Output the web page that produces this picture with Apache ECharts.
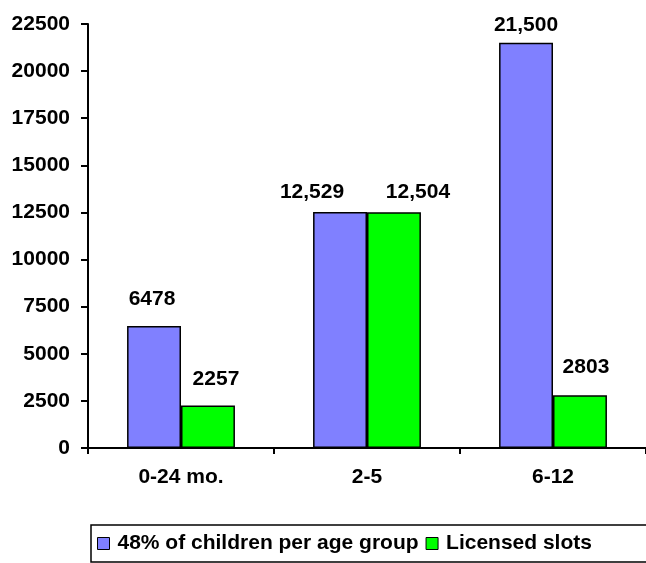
<!DOCTYPE html>
<html>
<head>
<meta charset="utf-8">
<script src="https://cdn.jsdelivr.net/npm/echarts@6/dist/echarts.min.js"></script>
<style>
html,body{margin:0;padding:0;background:#fff;}
#chart{width:646px;height:563px;}
</style>
</head>
<body>
<div id="chart"></div>
<script>
var categories = ['0-24 mo.', '2-5', '6-12'];
var seriesNames = ['48% of children per age group', 'Licensed slots'];
var childrenValues = [6478, 12529, 21500];
var slotValues = [2257, 12504, 2803];
var childrenLabels = ['6478', '12,529', '21,500'];
var slotLabels = ['2257', '12,504', '2803'];
var yTicks = { min: 0, max: 22500, interval: 2500 };

var FONT = '"Liberation Sans", Arial, sans-serif';
var FS = 21;
// label nudges [dx, dy] to match reference placement
var childNudge = [[-2, -16], [-28, -9], [0, -7]];
var slotNudge = [[8, -16], [24, -10], [6, -17]];

function buildData(values, labels, nudges) {
  return values.map(function (v, i) {
    return {
      value: v,
      label: { formatter: labels[i], offset: nudges[i] }
    };
  });
}

var labelStyle = {
  show: true,
  position: 'top',
  distance: 0,
  color: '#000',
  fontFamily: FONT,
  fontWeight: 'bold',
  fontSize: FS
};

var chart = echarts.init(document.getElementById('chart'), null, { renderer: 'canvas' });
chart.setOption({
  animation: false,
  backgroundColor: '#fff',
  grid: { left: 88, right: 0, top: 24, bottom: 115, containLabel: false },
  legend: {
    left: 91,
    top: 525,
    width: 900,
    orient: 'horizontal',
    padding: [8, 60, 8, 6],
    borderColor: '#000',
    borderWidth: 1.5,
    itemWidth: 12,
    itemHeight: 12,
    itemGap: 7,
    icon: 'rect',
    itemStyle: { borderColor: '#000', borderWidth: 1 },
    textStyle: { color: '#000', fontFamily: FONT, fontWeight: 'bold', fontSize: FS, padding: [0, 0, 0, 3] },
    data: seriesNames
  },
  xAxis: {
    type: 'category',
    data: categories,
    axisLine: { lineStyle: { color: '#000', width: 2 } },
    axisTick: { show: true, length: 6, lineStyle: { color: '#000', width: 2 } },
    axisLabel: { color: '#000', fontFamily: FONT, fontWeight: 'bold', fontSize: FS, margin: 19 },
    splitLine: { show: false }
  },
  yAxis: {
    type: 'value',
    min: yTicks.min,
    max: yTicks.max,
    interval: yTicks.interval,
    axisLine: { show: true, lineStyle: { color: '#000', width: 2 } },
    axisTick: { show: true, length: 7, lineStyle: { color: '#000', width: 2 } },
    axisLabel: {
      color: '#000', fontFamily: FONT, fontWeight: 'bold', fontSize: FS, margin: 18,
      formatter: function (v) { return String(v); }
    },
    splitLine: { show: false }
  },
  series: [
    {
      name: seriesNames[0],
      type: 'bar',
      barWidth: '29%',
      barGap: '0%',
      itemStyle: { color: '#8080FF', borderColor: '#000', borderWidth: 1.5 },
      label: labelStyle,
      data: buildData(childrenValues, childrenLabels, childNudge)
    },
    {
      name: seriesNames[1],
      type: 'bar',
      barWidth: '29%',
      barGap: '0%',
      itemStyle: { color: '#00FF00', borderColor: '#000', borderWidth: 1.5 },
      label: labelStyle,
      data: buildData(slotValues, slotLabels, slotNudge)
    }
  ]
});
</script>
</body>
</html>
